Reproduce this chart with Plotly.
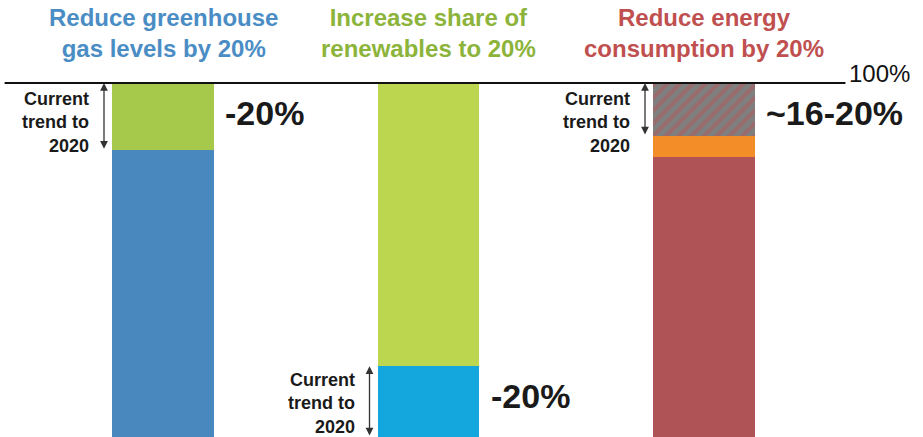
import plotly.graph_objects as go

# three EU 2020 targets
categories = ["ghg", "renewables", "energy"]
titles = [
    "Reduce greenhouse<br>gas levels by 20%",
    "Increase share of<br>renewables to 20%",
    "Reduce energy<br>consumption by 20%",
]
title_colors = ["#4a8dc5", "#8cb43a", "#c0504f"]

# share of 100% (bottom segment = where things stand)
base_vals = [81, 20, 79]
base_colors = ["#4888bf", "#13a7dd", "#b05356"]
target_vals = [19, 80, None]
target_colors = ["#a6c84b", "#bcd64f", "#ffffff"]
orange_vals = [None, None, 6]
hatch_vals = [None, None, 15]

gap_labels = ["-20%", "-20%", "~16-20%"]
label_y = [91, 11, 91]
# where the "current trend" bracket sits: (bottom, top)
trend_spans = [(81, 100), (0, 20), (85, 100)]
note_y = [88.8, 9.5, 88.8]

FONT = "Liberation Sans"
W = 0.377
PX = 270.5           # pixels per category step
nudge_px = [0, -5, 0]  # middle column sits a bit left in the original
offsets = [-W / 2 + n / PX for n in nudge_px]

fig = go.Figure()
fig.add_trace(go.Bar(x=categories, y=base_vals, width=W, offset=offsets,
                     marker=dict(color=base_colors, line_width=0)))
fig.add_trace(go.Bar(x=categories, y=target_vals, width=W, offset=offsets,
                     marker=dict(color=target_colors, line_width=0)))
fig.add_trace(go.Bar(x=categories, y=orange_vals, width=W, offset=offsets,
                     marker=dict(color="#f38d28", line_width=0)))
fig.add_trace(go.Bar(x=categories, y=hatch_vals, width=W, offset=offsets,
                     marker=dict(color="#7f7f7f", line_width=0,
                                 pattern=dict(shape="/", fgcolor="#b5585a",
                                              bgcolor="#7f7f7f", size=9,
                                              solidity=0.45,
                                              fillmode="overlay"))))

# 100% line
fig.add_shape(type="line", xref="paper", yref="y", x0=0.005, x1=0.916,
              y0=100, y1=100, line=dict(color="#111111", width=2))
fig.add_annotation(xref="paper", yref="y", x=0.918, y=100, text="100%",
                   showarrow=False, xanchor="left", yanchor="bottom", yshift=-6,
                   font=dict(family=FONT, size=24, color="#111111"))

for i, cat in enumerate(categories):
    n = nudge_px[i]
    fig.add_annotation(x=cat, xref="x", yref="paper", y=0.925, yanchor="middle",
                       text="<b>%s</b>" % titles[i], showarrow=False, xshift=n,
                       font=dict(family=FONT, size=24, color=title_colors[i]))
    lo, hi = trend_spans[i]
    fig.add_annotation(x=cat, y=label_y[i], text="<b>%s</b>" % gap_labels[i], showarrow=False,
                       xanchor="left", yanchor="middle", xshift=60 + n, yshift=2,
                       font=dict(family=FONT, size=34, color="#1a1a1a"))
    fig.add_annotation(x=cat, y=note_y[i], text="<b>Current<br>trend to<br>2020</b>",
                       showarrow=False, xanchor="right", yanchor="middle",
                       xshift=-72 + n, align="right",
                       font=dict(family=FONT, size=18, color="#1a1a1a"))
    fig.add_annotation(x=cat, y=hi, ax=cat, ay=lo, axref="x", ayref="y", text="",
                       showarrow=True, arrowside="end+start", arrowhead=2, startarrowhead=2,
                       arrowsize=1.2, startarrowsize=1.2, arrowwidth=1.3, arrowcolor="#333333",
                       xshift=-59 + n)

fig.update_layout(
    width=923, height=437,
    margin=dict(l=0, r=0, t=0, b=0),
    barmode="stack", showlegend=False,
    plot_bgcolor="white", paper_bgcolor="white",
    xaxis=dict(range=[-0.6026, 2.8096], visible=False),
    yaxis=dict(range=[0, 123.45], visible=False),
)

# page body has an 8px default margin; drop it so the figure sits at 0,0
fig.write_html("out.html", config={"displayModeBar": False},
               post_script="document.body.style.margin='0';")
